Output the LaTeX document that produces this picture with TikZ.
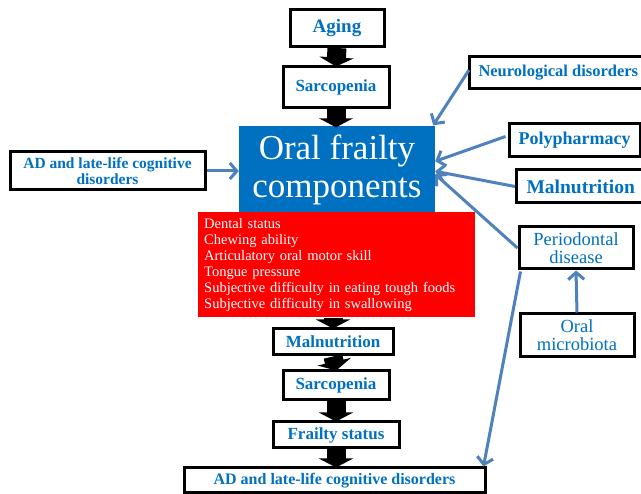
\documentclass[tikz,border=0pt]{standalone}
\usepackage{fontspec}
\setmainfont{Liberation Serif}
\usetikzlibrary{arrows.meta,calc}
\definecolor{txtblue}{RGB}{0,112,192}
\definecolor{boxblue}{RGB}{0,112,192}
\definecolor{arrblue}{RGB}{79,129,189}
\definecolor{boxred}{RGB}{255,0,0}
\tikzset{
  wbox/.style={draw=black, line width=3pt, fill=white, text=txtblue, inner sep=0pt, align=center, font=\bfseries\fontsize{17}{19}\selectfont},
  fatarrow/.style={draw=black, line width=19pt, -{Triangle[length=9pt,width=34pt]}, shorten >=-1pt},
  blarrow/.style={draw=arrblue, line width=3pt, -{Straight Barb[length=7pt,width=16pt]}},
}
\begin{document}
\begin{tikzpicture}[x=1pt,y=-1pt]
\useasboundingbox (0,0) rectangle (641,494);
\clip (0,0) rectangle (641,494);
\fill[white] (0,0) rectangle (641,494);

% central column
\node[wbox, minimum width=94, minimum height=37, font=\bfseries\fontsize{19}{21}\selectfont] (aging) at (337,28) {Aging};
\node[wbox, minimum width=106, minimum height=41] (sarcA) at (336,87.5) {Sarcopenia};
\node[fill=boxblue, text=white, inner sep=0pt, minimum width=196, minimum height=87, align=center, font=\fontsize{35}{38}\selectfont] (blue) at (337,170) {Oral frailty\\components};
\node[fill=boxred, text=white, inner sep=6pt, text width=265, minimum height=103, align=left, font=\fontsize{14.5}{16}\selectfont, anchor=north west] (red) at (198,212) {Dental status\\Chewing ability\\Articulatory oral motor skill\\Tongue pressure\\Subjective difficulty in eating tough foods\\Subjective difficulty in swallowing};
\node[wbox, minimum width=120, minimum height=26] (malB) at (333,342) {Malnutrition};
\node[wbox, minimum width=106, minimum height=29] (sarcB) at (336,385.5) {Sarcopenia};
\node[wbox, minimum width=126, minimum height=26] (frail) at (336,435) {Frailty status};
\node[wbox, minimum width=301, minimum height=25, font=\bfseries\fontsize{16}{18}\selectfont] (adB) at (334.5,480.5) {AD and late-life cognitive disorders};

% left
\node[wbox, minimum width=195, minimum height=38, font=\bfseries\fontsize{15.5}{16}\selectfont] (adL) at (107.5,171) {AD and late-life cognitive\\disorders};

% right
\node[wbox, anchor=west, minimum height=32, inner xsep=9pt, font=\bfseries\fontsize{16.5}{18}\selectfont] (neuro) at (468,73) {Neurological disorders};
\node[wbox, minimum width=131, minimum height=33, font=\bfseries\fontsize{18}{20}\selectfont] (poly) at (574.5,140.5) {Polypharmacy};
\node[wbox, anchor=west, minimum height=33, inner xsep=10pt, font=\bfseries\fontsize{19.5}{21}\selectfont] (malR) at (515,186.5) {Malnutrition};
\node[wbox, minimum width=114, minimum height=42, font=\fontsize{18.5}{18}\selectfont] (perio) at (576,248) {Periodontal\\disease};
\node[wbox, minimum width=114, minimum height=43, font=\fontsize{18.5}{18}\selectfont] (micro) at (577,335.5) {Oral\\microbiota};

% fat black arrows
\draw[fatarrow] (aging.south) -- (sarcA.north);
\draw[fatarrow] (sarcA.south) -- (sarcA.south |- blue.north);
\draw[fatarrow] (red.south -| malB.north) -- (malB.north);
\draw[fatarrow] (malB.south) -- (sarcB.north);
\draw[fatarrow] (sarcB.south) -- (frail.north);
\draw[fatarrow] (frail.south) -- (frail.south |- adB.north);

% blue arrows
\coordinate (tP) at ($(blue.north east)+(0,35)$);
\coordinate (tM) at ($(blue.north east)+(0,45)$);
\coordinate (tD) at ($(blue.north east)+(0,48)$);
\draw[blarrow] (adL.east) -- (adL.east -| blue.west);
\draw[blarrow] ($(neuro.west)+(1,-3)$) -- ($(blue.north east)+(-2,-1)$);
\draw[blarrow] ($(poly.west)+(-2,-4)$) -- (tP);
\draw[blarrow] (malR.west) -- (tM);
\draw[blarrow] (perio.west) -- (tD);
\draw[blarrow] (micro.north) -- (perio.south);
\draw[blarrow] ($(perio.south west)+(3,1)$) -- ($(adB.north east)+(-3,0)$);
\end{tikzpicture}
\end{document}
